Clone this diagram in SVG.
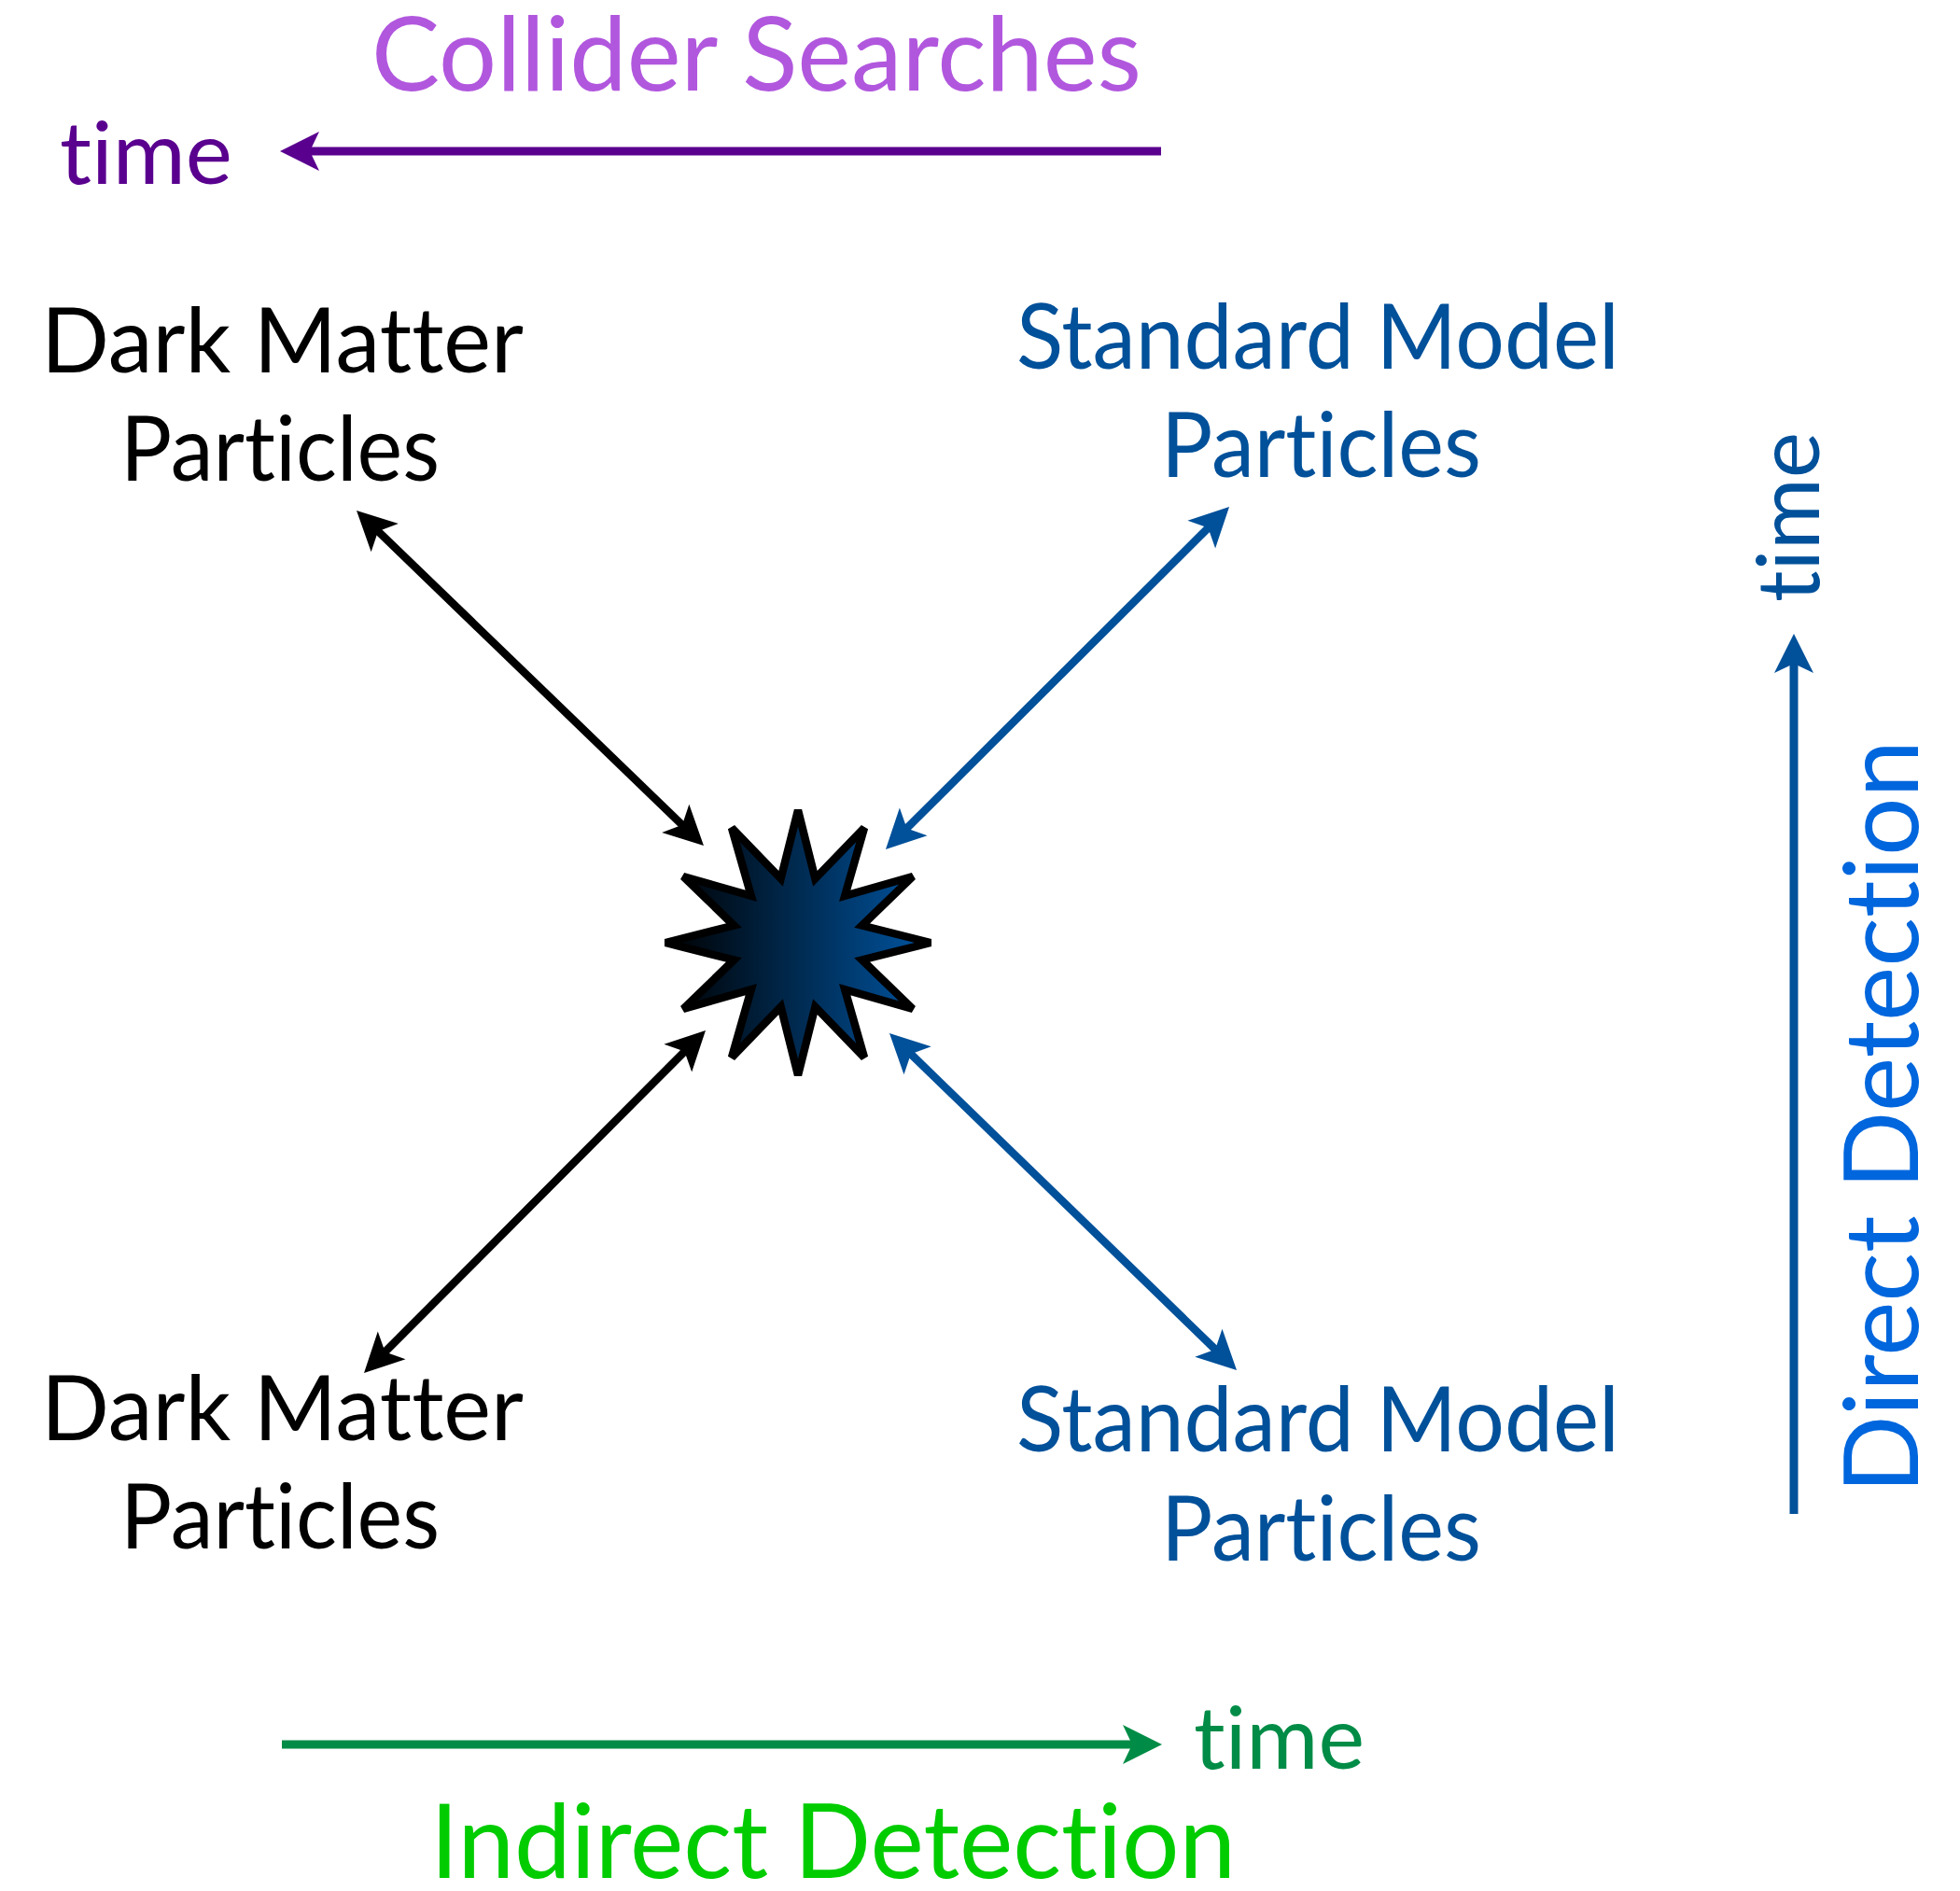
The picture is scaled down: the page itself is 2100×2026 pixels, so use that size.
<svg xmlns="http://www.w3.org/2000/svg" width="2100" height="2026" viewBox="0 0 2100 2026">
  <style>
    text { font-family: Lato, "Open Sans", "Liberation Sans", sans-serif; font-variant-ligatures: none; font-feature-settings: "liga" 0, "clig" 0; }
    .label { font-size: 97px; text-anchor: start; }
    .title { font-size: 110px; }
    .time { font-size: 94px; }
    .dm { fill: #000000; }
    .sm { fill: #00509a; }
    .diag { fill: none; stroke-width: 8.5; stroke-linecap: butt; }
    .axis { fill: none; stroke-width: 9; stroke-linecap: butt; }
  </style>
  <defs>
    <linearGradient id="burstFill" x1="0" y1="0" x2="1" y2="0">
      <stop offset="0" stop-color="#000000"/>
      <stop offset="1" stop-color="#0055a2"/>
    </linearGradient>
    <!-- arrowheads: tip sits 30 units beyond the line end -->
    <marker id="headBlack" markerUnits="userSpaceOnUse" viewBox="-20 -25 60 50" markerWidth="60" markerHeight="50" refX="0" refY="0" orient="auto-start-reverse" overflow="visible">
      <path d="M30,0 L-12,-21 L-2,0 L-12,21 Z" fill="#000000"/>
    </marker>
    <marker id="headBlue" markerUnits="userSpaceOnUse" viewBox="-20 -25 60 50" markerWidth="60" markerHeight="50" refX="0" refY="0" orient="auto-start-reverse" overflow="visible">
      <path d="M30,0 L-12,-21 L-2,0 L-12,21 Z" fill="#00509a"/>
    </marker>
    <marker id="headPurple" markerUnits="userSpaceOnUse" viewBox="-20 -25 60 50" markerWidth="60" markerHeight="50" refX="0" refY="0" orient="auto" overflow="visible">
      <path d="M30,0 L-12,-21 L-2,0 L-12,21 Z" fill="#5a008f"/>
    </marker>
    <marker id="headGreen" markerUnits="userSpaceOnUse" viewBox="-20 -25 60 50" markerWidth="60" markerHeight="50" refX="0" refY="0" orient="auto" overflow="visible">
      <path d="M30,0 L-12,-21 L-2,0 L-12,21 Z" fill="#008c46"/>
    </marker>
  </defs>

  <rect x="0" y="0" width="2100" height="2026" fill="#ffffff"/>

  <!-- axis headings -->
  <g id="collider-searches">
    <text class="title" x="398" y="97" fill="#b157de" textLength="825" lengthAdjust="spacingAndGlyphs">Collider Searches</text>
    <text class="time" x="64" y="197" fill="#5a008f" textLength="185" lengthAdjust="spacingAndGlyphs">time</text>
  </g>
  <g id="direct-detection">
    <text class="title" transform="translate(2055,1600) rotate(-90)" x="0" y="0" fill="#0066dd" textLength="807" lengthAdjust="spacingAndGlyphs">Direct Detection</text>
    <text class="time" transform="translate(1949,645) rotate(-90)" x="0" y="0" fill="#00509a" textLength="182" lengthAdjust="spacingAndGlyphs">time</text>
  </g>
  <g id="indirect-detection">
    <text class="title" x="461" y="2012" fill="#00cc00" textLength="863" lengthAdjust="spacingAndGlyphs">Indirect Detection</text>
    <text class="time" x="1279" y="1895" fill="#008c46" textLength="183" lengthAdjust="spacingAndGlyphs">time</text>
  </g>

  <!-- particle labels -->
  <g id="dm-top">
    <text class="label dm" x="44" y="399" textLength="517" lengthAdjust="spacingAndGlyphs">Dark Matter</text>
    <text class="label dm" x="129" y="515" textLength="342" lengthAdjust="spacingAndGlyphs">Particles</text>
  </g>
  <g id="sm-top">
    <text class="label sm" x="1089" y="395" textLength="646" lengthAdjust="spacingAndGlyphs">Standard Model</text>
    <text class="label sm" x="1244" y="511" textLength="343" lengthAdjust="spacingAndGlyphs">Particles</text>
  </g>
  <g id="dm-bottom">
    <text class="label dm" x="44" y="1543" textLength="517" lengthAdjust="spacingAndGlyphs">Dark Matter</text>
    <text class="label dm" x="129" y="1659" textLength="342" lengthAdjust="spacingAndGlyphs">Particles</text>
  </g>
  <g id="sm-bottom">
    <text class="label sm" x="1089" y="1555" textLength="646" lengthAdjust="spacingAndGlyphs">Standard Model</text>
    <text class="label sm" x="1244" y="1672" textLength="343" lengthAdjust="spacingAndGlyphs">Particles</text>
  </g>

  <!-- interaction vertex: twelve-pointed burst -->
  <g id="interaction">
    <path d="M855,868 L873.4,941.4 L926,887 L905.2,959.8 L978,939 L923.6,991.6 L997,1010 L923.6,1028.4 L978,1081 L905.2,1060.2 L926,1133 L873.4,1078.6 L855,1152 L836.6,1078.6 L784,1133 L804.8,1060.2 L732,1081 L786.4,1028.4 L713,1010 L786.4,991.6 L732,939 L804.8,959.8 L784,887 L836.6,941.4 Z" fill="url(#burstFill)" stroke="#000000" stroke-width="8.5" stroke-linejoin="miter"/>
  </g>

  <!-- connectors -->
  <g id="connectors">
    <line class="diag" x1="403.6" y1="567.8" x2="732.4" y2="885.2" stroke="#000000" marker-start="url(#headBlack)" marker-end="url(#headBlack)"/>
    <line class="diag" x1="411.2" y1="1449.8" x2="734.8" y2="1125.2" stroke="#000000" marker-start="url(#headBlack)" marker-end="url(#headBlack)"/>
    <line class="diag" x1="1295.8" y1="564.2" x2="970.2" y2="888.8" stroke="#00509a" marker-start="url(#headBlue)" marker-end="url(#headBlue)"/>
    <line class="diag" x1="974.5" y1="1127.9" x2="1303.5" y2="1447.1" stroke="#00509a" marker-start="url(#headBlue)" marker-end="url(#headBlue)"/>
    <line class="axis" x1="1244" y1="162" x2="330" y2="162" stroke="#5a008f" marker-end="url(#headPurple)"/>
    <line class="axis" x1="302" y1="1869" x2="1215" y2="1869" stroke="#008c46" marker-end="url(#headGreen)"/>
    <line class="axis" x1="1922" y1="1622" x2="1922" y2="709" stroke="#00509a" marker-end="url(#headBlue)"/>
  </g>
</svg>
